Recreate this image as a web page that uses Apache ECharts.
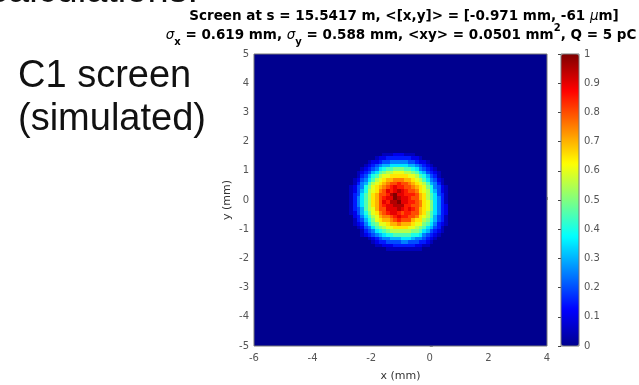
<!DOCTYPE html>
<html><head><meta charset="utf-8">
<script src="https://cdn.jsdelivr.net/npm/echarts@6/dist/echarts.min.js"></script>
<style>html,body{margin:0;padding:0;background:#fff}#c{width:639px;height:385px}</style>
</head><body><div id="c"></div>
<script>
// ---- data ----
const xRange = [-6, 4];          // x (mm)
const yRange = [-5, 5];          // y (mm)
const xTickStep = 2;
const yTickStep = 1;
const cbarRange = [0, 1];
const cbarTickStep = 0.1;
const binSize = 0.125;           // histogram bin (mm)
const patchLeft = -2.75;         // left edge (mm) of the non-zero patch
const patchTop = 1.75;           // top edge (mm) of the non-zero patch
const levelCodes = '0123456789ABCDEFGHIJK';   // code index / 20 = normalised intensity
const levelScale = 20;
const beamRows = [
  '0000000000000000000000000000',
  '0000000001112221110000000000',
  '0000000122333333322100000000',
  '0000012234455555443221000000',
  '0000123456677777665432100000',
  '000123457899AAA9987543210000',
  '001234679ABBCCCBBA9764321000',
  '00134689BCCDDDDDCCB986431000',
  '0124579BCDEEFFFEEDCB97542100',
  '013569BCDEFGGHGGFEDCB9653100',
  '12458ACDEFGHIHHGGFEDCA854210',
  '12468BCDFGIHIJIHGGFDCB864210',
  '13479BDEGGHJKIIHHHGEDB974310',
  '13579BDEGHIIKJIIHGGEDB975310',
  '13579BDEGIHJJKIIHHGFDCA75310',
  '13579BDEGHIIJJJHHGGFDCA75320',
  '13469BCEGGIIIJIHIHGEDCA75320',
  '12468ACDFGHIIHGHHGGEDB975320',
  '023579BCEFFGHIHHGGFDCB964310',
  '013468ACDEEFGHGGGEDDBA864310',
  '0123579ACCDEEFEEEDCCA9753210',
  '00124579ABCCDDDDCCBA97643100',
  '0001345789ABBBBBBAA976432100',
  '0001234567889999988754321000',
  '0000012345566677765543210000',
  '0000001233444455444332100000',
  '0000000112223333332211000000',
  '0000000000111111111100000000'
];
const titleLine1 = 'Screen at s = 15.5417 m, <[x,y]> = [-0.971 mm, -61 {mu|\u03bc}m]';
const titleLine2 = '{s|\u03c3}{b|x}{t| = 0.619 mm, }{s|\u03c3}{b|y}{t| = 0.588 mm, <xy> = 0.0501 mm}{p|2}{t|, Q = 5 pC}';
const xName = 'x (mm)';
const yName = 'y (mm)';
const jetColors = ['#00008F','#0000FF','#0080FF','#00FFFF','#80FF80','#FFFF00','#FF8000','#FF0000','#800000'];

// ---- build cells ----
const nx = Math.round((xRange[1] - xRange[0]) / binSize);
const ny = Math.round((yRange[1] - yRange[0]) / binSize);
const col0 = Math.round((patchLeft - xRange[0]) / binSize);
const rowTop = Math.round((patchTop - yRange[0]) / binSize);
const cells = [];
for (let i = 0; i < nx; i++) {
  for (let j = 0; j < ny; j++) {
    const c = i - col0, r = rowTop - 1 - j;
    let v = 0;
    if (r >= 0 && r < beamRows.length && c >= 0 && c < beamRows[r].length) {
      v = levelCodes.indexOf(beamRows[r][c]) / levelScale;
    }
    cells.push([xRange[0] + binSize * (i + 0.5), yRange[0] + binSize * (j + 0.5), v]);
  }
}

const FONT = 'DejaVu Sans';
const TF = 13.5;
const chart = echarts.init(document.getElementById('c'));
function renderCell(params, api) {
  const x = api.value(0), y = api.value(1);
  const p0 = api.coord([x - binSize / 2, y + binSize / 2]);
  const p1 = api.coord([x + binSize / 2, y - binSize / 2]);
  const x0 = Math.round(p0[0]), y0 = Math.round(p0[1]);
  const x1 = Math.round(p1[0]), y1 = Math.round(p1[1]);
  const color = api.visual('color');
  return { type: 'rect', shape: { x: x0, y: y0, width: x1 - x0, height: y1 - y0 }, style: { fill: color } };
}

chart.setOption({
  animation: false,
  backgroundColor: '#fff',
  grid: [
    { left: 254, top: 54, width: 293, height: 292, show: true, borderColor: '#777', borderWidth: 1, backgroundColor: 'transparent', z: 3,
      containLabel: false, outerBoundsMode: 'none' },
    { left: 561, top: 54, width: 18, height: 292, show: true, borderColor: '#777', borderWidth: 1, backgroundColor: 'transparent', z: 5,
      containLabel: false, outerBoundsMode: 'none' }
  ],
  xAxis: [
    { gridIndex: 0, type: 'value', min: xRange[0], max: xRange[1], interval: xTickStep,
      name: xName, nameLocation: 'middle', nameGap: 25,
      nameTextStyle: { fontFamily: FONT, fontSize: 11, color: '#333' },
      axisLine: { show: false }, splitLine: { show: false },
      axisTick: { inside: true, length: 3, lineStyle: { color: '#888' } },
      axisLabel: { fontFamily: FONT, fontSize: 10, color: '#555', margin: 7 } },
    { gridIndex: 1, type: 'value', min: 0, max: 1, show: false }
  ],
  yAxis: [
    { gridIndex: 0, type: 'value', min: yRange[0], max: yRange[1], interval: yTickStep,
      name: yName, nameLocation: 'middle', nameGap: 21,
      nameTextStyle: { fontFamily: FONT, fontSize: 11, color: '#333' },
      axisLine: { show: false }, splitLine: { show: false },
      axisTick: { inside: true, length: 3, lineStyle: { color: '#888' } },
      axisLabel: { fontFamily: FONT, fontSize: 10, color: '#555', margin: 5 } },
    { gridIndex: 1, type: 'value', position: 'right', min: cbarRange[0], max: cbarRange[1], interval: cbarTickStep,
      axisLine: { show: false }, splitLine: { show: false },
      axisTick: { inside: true, length: 3, lineStyle: { color: '#444' } },
      axisLabel: { fontFamily: FONT, fontSize: 10, color: '#555', margin: 5 } }
  ],
  visualMap: {
    type: 'continuous', min: cbarRange[0], max: cbarRange[1], dimension: 2, seriesIndex: 0,
    calculable: false, realtime: false, left: 561, top: 54, itemWidth: 18, itemHeight: 292,
    padding: 0, text: null, showLabel: false, inRange: { color: jetColors }, z: 2
  },
  series: [
    { type: 'custom', xAxisIndex: 0, yAxisIndex: 0, renderItem: renderCell, data: cells, clip: true,
      encode: { x: 0, y: 1 }, silent: true }
  ],
  graphic: [
    { type: 'text', x: -11, y: -8, style: { text: 'calculations:', fontFamily: 'Liberation Sans', fontSize: 38, fill: '#111', verticalAlign: 'middle' } },
    { type: 'text', x: 18, y: 77, style: { text: 'C1 screen', fontFamily: 'Liberation Sans', fontSize: 38, fill: '#111', verticalAlign: 'middle' } },
    { type: 'text', x: 18, y: 120, style: { text: '(simulated)', fontFamily: 'Liberation Sans', fontSize: 38, fill: '#111', verticalAlign: 'middle' } },
    { type: 'text', x: 404, y: 16, style: { text: titleLine1, fontFamily: FONT, fontSize: TF, fontWeight: 'bold', fill: '#000', align: 'center', verticalAlign: 'middle',
        rich: { mu: { fontFamily: FONT, fontSize: TF, fontStyle: 'italic', fontWeight: 'normal', fill: '#000' } } } },
    { type: 'text', x: 401, y: 35, style: { text: titleLine2, fontFamily: FONT, fontSize: TF, fontWeight: 'bold', fill: '#000', align: 'center', verticalAlign: 'middle',
        rich: {
          t: { fontFamily: FONT, fontSize: TF, fontWeight: 'bold', lineHeight: 24, fill: '#000' },
          s: { fontFamily: FONT, fontSize: TF, fontStyle: 'italic', fontWeight: 'normal', lineHeight: 24, fill: '#000' },
          b: { fontFamily: FONT, fontSize: 10, fontWeight: 'bold', lineHeight: 12, verticalAlign: 'bottom', fill: '#000' },
          p: { fontFamily: FONT, fontSize: 10, fontWeight: 'bold', lineHeight: 14, verticalAlign: 'top', fill: '#000' }
        } } }
  ]
});
</script></body></html>
